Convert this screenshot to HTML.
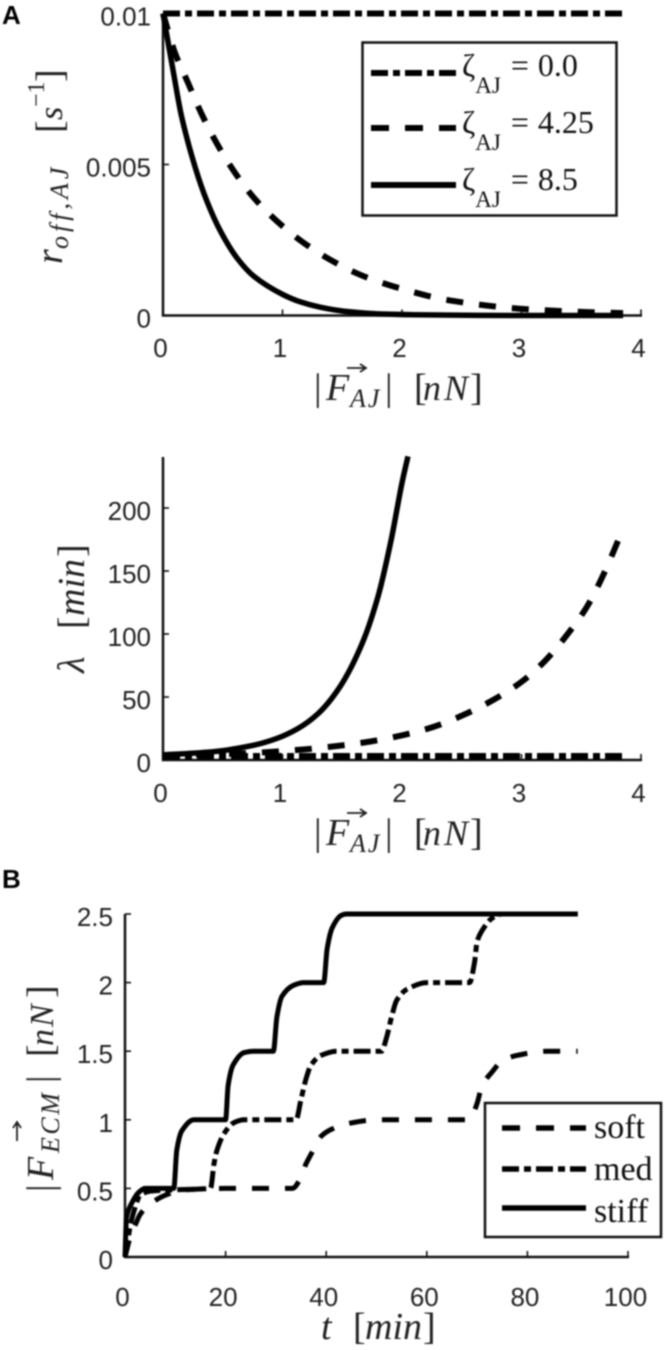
<!DOCTYPE html>
<html>
<head>
<meta charset="utf-8">
<title>Force response curves</title>
<style>
html,body{margin:0;padding:0;background:#fff;}
svg{display:block;filter:blur(0.7px);}
.tick{font-family:"Liberation Sans",sans-serif;font-size:26px;fill:#222;}
.math{font-family:"Liberation Serif",serif;font-size:38px;fill:#222;}
.it{font-style:italic;}
.sub{font-size:26px;font-style:italic;}
.leg{font-family:"Liberation Serif",serif;font-size:32px;fill:#111;}
.panel{font-family:"Liberation Sans",sans-serif;font-weight:bold;font-size:26px;fill:#000;}
</style>
</head>
<body>
<svg id="fig" xmlns="http://www.w3.org/2000/svg" width="664" height="1350" viewBox="0 0 664 1350">
  <rect width="664" height="1350" fill="#fff"/>
  <text class="panel" x="2" y="24">A</text>
  <text class="panel" x="2" y="888">B</text>

  <g id="plot1"></g>
  <g id="plot2"></g>
  <g id="plot3"></g>

  <!-- Axis titles -->
  <g transform="translate(62,264) rotate(-90)">
    <text class="math"><tspan class="it" x="0">r</tspan><tspan class="sub" x="15" dy="6" letter-spacing="4">off,AJ</tspan><tspan x="131" dy="-6">[</tspan><tspan class="it" x="144" font-size="34">s</tspan><tspan x="157" dy="-18" font-size="24">−1</tspan><tspan x="182" dy="18">]</tspan></text>
  </g>
  <g transform="translate(317,400)">
    <text class="math"><tspan x="-3">|</tspan><tspan class="it" x="9">F</tspan><tspan class="sub" x="33" dy="7" letter-spacing="2">AJ</tspan><tspan x="68" dy="-7">|</tspan><tspan x="97">[</tspan><tspan class="it" x="106" font-size="36" letter-spacing="3">nN</tspan><tspan x="153">]</tspan></text>
    <path d="M30,-32H48M43,-36L49,-32L43,-28" fill="none" stroke="#222" stroke-width="1.8"/>
  </g>
  <g transform="translate(84,673) rotate(-90)">
    <text class="math"><tspan class="it" x="0">λ</tspan><tspan x="44">[</tspan><tspan class="it" x="57">min</tspan><tspan x="116">]</tspan></text>
  </g>
  <g transform="translate(317,845)">
    <text class="math"><tspan x="-3">|</tspan><tspan class="it" x="9">F</tspan><tspan class="sub" x="33" dy="7" letter-spacing="2">AJ</tspan><tspan x="68" dy="-7">|</tspan><tspan x="97">[</tspan><tspan class="it" x="106" font-size="36" letter-spacing="3">nN</tspan><tspan x="153">]</tspan></text>
    <path d="M30,-32H48M43,-36L49,-32L43,-28" fill="none" stroke="#222" stroke-width="1.8"/>
  </g>
  <g transform="translate(53,1188) rotate(-90)">
    <text class="math"><tspan x="-4">|</tspan><tspan class="it" x="8">F</tspan><tspan class="sub" x="35" dy="6" letter-spacing="2.5">ECM</tspan><tspan x="105" dy="-6">|</tspan><tspan x="131">[</tspan><tspan class="it" x="142" font-size="34" letter-spacing="2">nN</tspan><tspan x="190">]</tspan></text>
    <path d="M47,-36H65M60,-40L66,-36L60,-32" fill="none" stroke="#222" stroke-width="1.8"/>
  </g>
  <text class="math" y="1339"><tspan class="it" x="321">t</tspan><tspan x="353">[</tspan><tspan class="it" x="365">min</tspan><tspan x="423">]</tspan></text>

  <!-- Legend A -->
  <g>
    <rect x="362.5" y="42.5" width="254" height="173" fill="#fff" stroke="#111" stroke-width="2.5"/>
    <line x1="371" x2="456" y1="73" y2="73" stroke="#000" stroke-width="6" stroke-dasharray="17 5 7 5"/>
    <text class="leg" x="462" y="76">ζ<tspan font-size="23" dy="17">AJ</tspan><tspan dy="-17" dx="10">=</tspan><tspan dx="9">0.0</tspan></text>
    <line x1="371" x2="456" y1="128" y2="128" stroke="#000" stroke-width="6" stroke-dasharray="18 16"/>
    <text class="leg" x="462" y="133">ζ<tspan font-size="23" dy="17">AJ</tspan><tspan dy="-17" dx="10">=</tspan><tspan dx="9">4.25</tspan></text>
    <line x1="371" x2="456" y1="185" y2="185" stroke="#000" stroke-width="6"/>
    <text class="leg" x="462" y="190">ζ<tspan font-size="23" dy="17">AJ</tspan><tspan dy="-17" dx="10">=</tspan><tspan dx="9">8.5</tspan></text>
  </g>

  <!-- Legend B -->
  <g>
    <rect x="485" y="1103" width="176" height="134" fill="#fff" stroke="#111" stroke-width="2.5"/>
    <line x1="502" x2="586" y1="1128" y2="1128" stroke="#000" stroke-width="5.5" stroke-dasharray="18 16"/>
    <text class="leg" style="font-size:34px" x="594" y="1138">soft</text>
    <line x1="502" x2="586" y1="1169" y2="1169" stroke="#000" stroke-width="5.5" stroke-dasharray="17 5 7 5"/>
    <text class="leg" style="font-size:34px" x="594" y="1180">med</text>
    <line x1="502" x2="586" y1="1208" y2="1208" stroke="#000" stroke-width="5.5"/>
    <text class="leg" style="font-size:34px" x="594" y="1222">stiff</text>
  </g>
</svg>

<script>
// Panel A top: off rate
const offForce = [0, 1, 2, 3, 4];
const offTicks = [0, 0.005, 0.01];
const offTickLabels = ["0", "0.005", "0.01"];
const offFlatF = [0, 3.85];
const offFlatV = [0.01, 0.01];
const offMidF = [0, 0.1, 0.21, 0.32, 0.45, 0.59, 0.76, 0.96, 1.18, 1.42, 1.68, 2, 2.4, 3, 3.5, 3.85];
const offMidV = [0.01, 0.0087, 0.0077, 0.0067, 0.0057, 0.0048, 0.0039, 0.0031, 0.0024, 0.0018, 0.0013, 0.00088, 0.0005, 0.00022, 0.00012, 0.00008];
const offHighF = [0, 0.085, 0.155, 0.27, 0.366, 0.48, 0.62, 0.76, 1, 1.15, 1.32, 1.5, 1.83, 2.2, 3, 3.85];
const offHighV = [0.01, 0.0081, 0.0066, 0.0049, 0.0038, 0.0028, 0.0019, 0.0013, 0.0007, 0.00045, 0.00027, 0.00015, 0.00005, 0.00002, 0, 0];

// Panel A bottom: lambda
const lamTicks = [0, 50, 100, 150, 200];
const lamFlatF = [0, 3.85];
const lamFlatV = [3, 3];
const lamMidF = [0, 0.6, 1.13, 1.41, 1.73, 2.02, 2.27, 2.52, 2.77, 3, 3.19, 3.37, 3.55, 3.69, 3.83];
const lamMidV = [4, 5, 8, 10.6, 14.6, 20, 26.5, 36, 48, 62, 78, 98, 122, 148, 179];
const lamHighF = [0, 0.42, 0.77, 0.95, 1.13, 1.3, 1.48, 1.66, 1.8, 1.91, 2.0, 2.05];
const lamHighV = [4, 6.6, 12, 17, 25, 37, 58, 91, 130, 175, 220, 241];

// Panel B: ECM force
const timeTicks = [0, 20, 40, 60, 80, 100];
const ecmTicks = [0, 0.5, 1, 1.5, 2, 2.5];
const softT = [0, 1, 2, 3, 4.7, 8.7, 12, 20, 33.3, 34.7, 36, 37, 39, 41, 44, 50, 68, 69, 70, 71, 73, 75, 78, 84, 90];
const softF = [0, 0.14, 0.23, 0.31, 0.38, 0.46, 0.49, 0.5, 0.5, 0.56, 0.68, 0.75, 0.88, 0.93, 0.97, 1, 1, 1.03, 1.12, 1.25, 1.35, 1.43, 1.47, 1.5, 1.5];
const medT = [0, 0.5, 1, 2, 3, 5, 10, 17, 17.7, 18.3, 19.7, 21.7, 23.7, 34, 35, 36, 37, 39, 42, 51, 52, 53, 54, 56, 60, 68.5, 69.5, 70, 71, 73, 75, 90];
const medF = [0, 0.1, 0.22, 0.36, 0.45, 0.48, 0.49, 0.5, 0.68, 0.78, 0.9, 0.98, 1, 1, 1.15, 1.3, 1.4, 1.47, 1.5, 1.5, 1.6, 1.75, 1.87, 1.95, 2, 2, 2.15, 2.3, 2.38, 2.47, 2.5, 2.5];
const stiffT = [0, 0.3, 1.3, 2.7, 4, 9.7, 10.3, 11.3, 13.7, 20, 20.5, 21.5, 23.7, 25.5, 29.5, 30.2, 31.2, 33.5, 35.5, 39.5, 40.2, 41.2, 43, 44, 90];
const stiffF = [0, 0.29, 0.39, 0.47, 0.5, 0.5, 0.78, 0.92, 1, 1, 1.25, 1.4, 1.49, 1.5, 1.5, 1.75, 1.9, 1.98, 2, 2, 2.25, 2.4, 2.49, 2.5, 2.5];

const NS = "http://www.w3.org/2000/svg";
const DASH = "17 16";
const DASHDOT = "17 5 7 5";

function scale(d0, d1, r0, r1) {
  return function (v) { return r0 + (v - d0) * (r1 - r0) / (d1 - d0); };
}

// Monotone cubic through the data points
function smoothPath(xs, ys, sx, sy) {
  const px = xs.map(sx), py = ys.map(sy), n = px.length;
  const sl = [], m = [];
  for (let i = 0; i < n - 1; i++) sl.push((py[i + 1] - py[i]) / (px[i + 1] - px[i]));
  m[0] = sl[0];
  m[n - 1] = sl[n - 2];
  for (let i = 1; i < n - 1; i++) {
    m[i] = sl[i - 1] * sl[i] <= 0 ? 0 : 2 * sl[i - 1] * sl[i] / (sl[i - 1] + sl[i]);
  }
  let d = "M" + px[0].toFixed(2) + "," + py[0].toFixed(2);
  for (let i = 0; i < n - 1; i++) {
    const h = (px[i + 1] - px[i]) / 3;
    d += "C" + (px[i] + h).toFixed(2) + "," + (py[i] + m[i] * h).toFixed(2) + " " +
      (px[i + 1] - h).toFixed(2) + "," + (py[i + 1] - m[i + 1] * h).toFixed(2) + " " +
      px[i + 1].toFixed(2) + "," + py[i + 1].toFixed(2);
  }
  return d;
}

function addSeries(parent, name, xs, ys, sx, sy, dash, width) {
  const el = document.createElementNS(NS, "path");
  
  
  el.setAttribute("d", smoothPath(xs, ys, sx, sy));
  el.setAttribute("fill", "none");
  el.setAttribute("stroke", "#000");
  el.setAttribute("stroke-width", width);
  if (dash) el.setAttribute("stroke-dasharray", dash);
  parent.appendChild(el);
}

function addLine(parent, name, x1, y1, x2, y2, w) {
  const el = document.createElementNS(NS, "line");
  
  
  el.setAttribute("x1", x1);
  el.setAttribute("y1", y1);
  el.setAttribute("x2", x2);
  el.setAttribute("y2", y2);
  el.setAttribute("stroke", "#111");
  el.setAttribute("stroke-width", w);
  parent.appendChild(el);
}

function addLabel(parent, name, x, y, anchor, str) {
  const el = document.createElementNS(NS, "text");
  
  
  el.setAttribute("class", "tick");
  el.setAttribute("x", x);
  el.setAttribute("y", y);
  el.setAttribute("text-anchor", anchor);
  el.textContent = str;
  parent.appendChild(el);
}

function axes(parent, sx, sy, xTicks, yTicks, yLabels, yTop, xLabelY) {
  const xa = sx(xTicks[0]), xb = sx(xTicks[xTicks.length - 1]), y0 = sy(yTicks[0]);
  addLine(parent, "y-axis-line", xa, yTop, xa, y0 + 1, 2.5);
  addLine(parent, "x-axis-line", xa - 1, y0, xb + 1, y0, 2.5);
  xTicks.forEach(function (t) {
    addLine(parent, "x-tick", sx(t), y0, sx(t), y0 - 6, 1.6);
    addLabel(parent, "x-tick-label", sx(t) - 2.5, xLabelY, "middle", String(t));
  });
  yTicks.forEach(function (t, i) {
    addLine(parent, "y-tick", xa, sy(t), xa + 6, sy(t), 1.6);
    addLabel(parent, "y-tick-label", xa - 12, sy(t) + 12, "end", yLabels ? yLabels[i] : String(t));
  });
}

// Plot 1
(function () {
  const g = document.getElementById("plot1");
  const sx = scale(0, 4, 163, 641);
  const sy = scale(0, 0.01, 315.5, 13.5);
  axes(g, sx, sy, offForce, offTicks, offTickLabels, 13.5, 357);
  addSeries(g, "series-zeta-0", offFlatF, offFlatV, sx, sy, DASHDOT, 6);
  addSeries(g, "series-zeta-4-25", offMidF, offMidV, sx, sy, DASH, 6);
  addSeries(g, "series-zeta-8-5", offHighF, offHighV, sx, sy, null, 5.5);
})();

// Plot 2
(function () {
  const g = document.getElementById("plot2");
  const sx = scale(0, 4, 163, 641);
  const sy = scale(0, 200, 760, 508);
  axes(g, sx, sy, offForce, lamTicks, null, 457, 802);
  addSeries(g, "series-lambda-zeta-8-5", lamHighF, lamHighV, sx, sy, null, 5.5);
  addSeries(g, "series-lambda-zeta-4-25", lamMidF, lamMidV, sx, sy, DASH, 6);
  addSeries(g, "series-lambda-zeta-0", lamFlatF, lamFlatV, sx, sy, DASHDOT, 6.5);
})();

// Plot 3
(function () {
  const g = document.getElementById("plot3");
  const sx = scale(0, 100, 125, 628);
  const sy = scale(0, 2.5, 1257, 914);
  axes(g, sx, sy, timeTicks, ecmTicks, null, 914, 1306);
  addSeries(g, "series-soft", softT, softF, sx, sy, DASH, 5);
  addSeries(g, "series-med", medT, medF, sx, sy, DASHDOT, 5);
  addSeries(g, "series-stiff", stiffT, stiffF, sx, sy, null, 5);
})();
</script>
</body>
</html>
